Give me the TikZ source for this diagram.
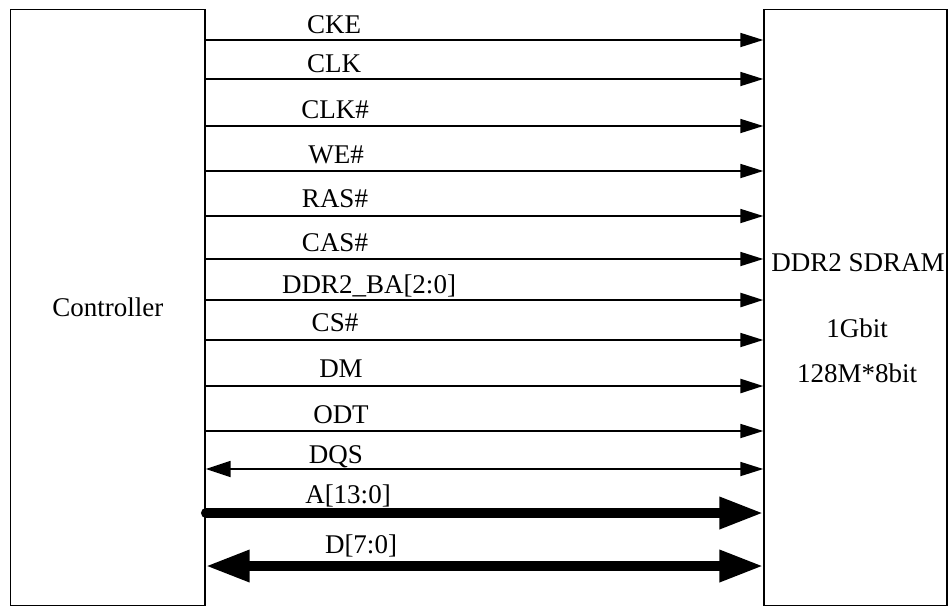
\documentclass[tikz,border=0pt]{standalone}
\usepackage{fontspec}
\setmainfont{Liberation Serif}
\usetikzlibrary{arrows.meta}
\begin{document}
\begin{tikzpicture}[x=1pt,y=-1pt,
  box/.style={draw, line width=1.4pt, inner sep=0pt, font=\fontsize{27}{30}\selectfont},
  lbl/.style={anchor=base, inner sep=0pt, font=\fontsize{27}{30}\selectfont},
  sig/.style={line width=1.8pt, -{Triangle[length=23pt,width=14pt]}},
  sigb/.style={line width=2.6pt, -{Triangle[length=23pt,width=14pt]}},
  bidi/.style={line width=1.8pt, {Triangle[length=25pt,width=16pt]}-{Triangle[length=23pt,width=14pt]}},
  bus/.style={line width=9.5pt, line cap=round, -{Triangle[length=44pt,width=30pt]}},
  busbi/.style={line width=9.5pt, {Triangle[length=44pt,width=30pt]}-{Triangle[length=44pt,width=30pt]}},
]
\useasboundingbox (0,0) rectangle (949,606);

\node[box, minimum width=194.3pt, minimum height=596.2pt] (ctrl) at (107.85,307.4) {Controller};
\node[box, minimum width=183pt, minimum height=596.2pt] (sdram) at (855.5,307.4) {};

\node[lbl] (t1) at (858,271) {DDR2 SDRAM};
\node[lbl] (t2) at (857,337) {1Gbit};
\node[lbl] (t3) at (857,382) {128M*8bit};

% signals
\draw[sig]  (ctrl.east |- 0,40)  -- (sdram.west |- 0,40);
\draw[sig]  (ctrl.east |- 0,79)  -- (sdram.west |- 0,79);
\draw[sig]  (ctrl.east |- 0,126) -- (sdram.west |- 0,126);
\draw[sig]  (ctrl.east |- 0,171) -- (sdram.west |- 0,171);
\draw[sig]  (ctrl.east |- 0,216) -- (sdram.west |- 0,216);
\draw[sig]  (ctrl.east |- 0,259) -- (sdram.west |- 0,259);
\draw[sigb] (ctrl.east |- 0,300) -- (sdram.west |- 0,300);
\draw[sig]  (ctrl.east |- 0,340) -- (sdram.west |- 0,340);
\draw[sigb] (ctrl.east |- 0,386) -- (sdram.west |- 0,386);
\draw[sig]  (ctrl.east |- 0,431) -- (sdram.west |- 0,431);
\draw[bidi] (ctrl.east |- 0,469) -- (sdram.west |- 0,469);
\draw[bus]  (ctrl.east |- 0,513) -- (sdram.west |- 0,513);
\draw[busbi] (ctrl.east |- 0,566) -- (sdram.west |- 0,566);

% labels
\node[lbl] (lcke) at (334,33)  {CKE};
\node[lbl] (lclk) at (334,72)  {CLK};
\node[lbl] (lclkn) at (335,118) {CLK\#};
\node[lbl] (lwe)  at (336,163) {WE\#};
\node[lbl] (lras) at (335,207) {RAS\#};
\node[lbl] (lcas) at (335,251) {CAS\#};
\node[lbl] (lba)  at (369,293) {DDR2\_BA[2:0]};
\node[lbl] (lcs)  at (335,331) {CS\#};
\node[lbl] (ldm)  at (341,377) {DM};
\node[lbl] (lodt) at (341,423) {ODT};
\node[lbl] (ldqs) at (336,463) {DQS};
\node[lbl] (la)   at (348,503) {A[13:0]};
\node[lbl] (ld)   at (361,553) {D[7:0]};
\end{tikzpicture}
\end{document}
